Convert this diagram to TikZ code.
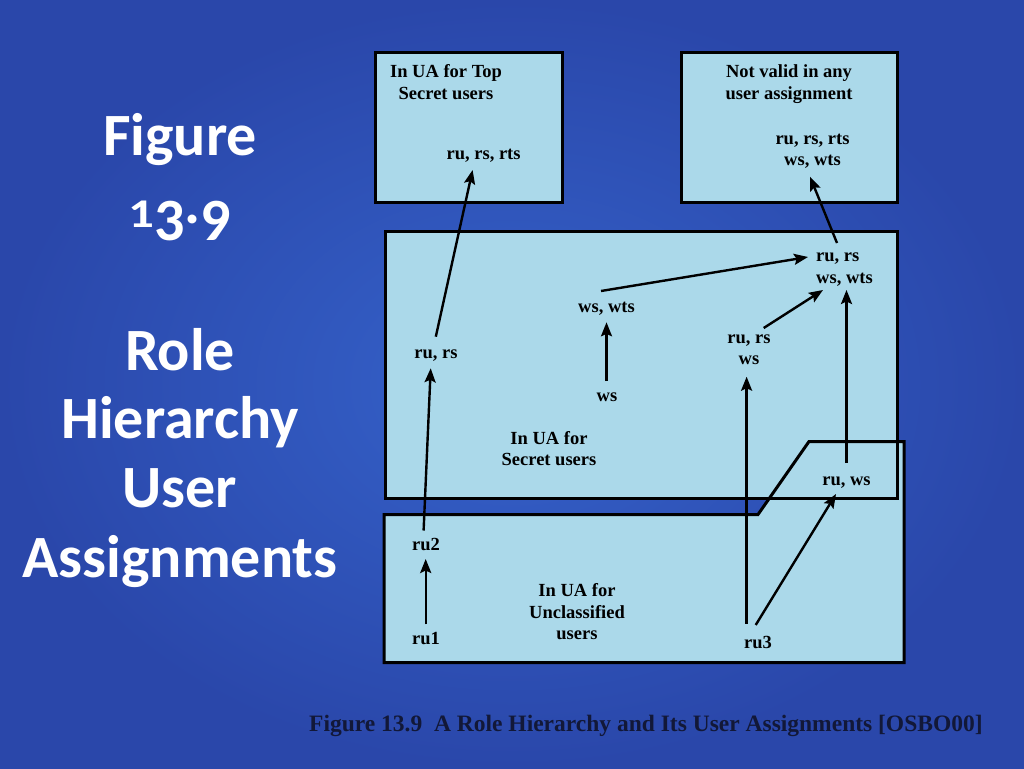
\documentclass[tikz,border=0pt]{standalone}
\usepackage{fontspec}
\setmainfont{Liberation Serif}
\newfontfamily\titlefont{Carlito}
\usetikzlibrary{arrows.meta,calc}
\definecolor{bgout}{HTML}{2A47AA}
\definecolor{bgin}{HTML}{3562CA}
\definecolor{boxfill}{HTML}{ABD9EA}
\definecolor{captxt}{HTML}{121838}
\tikzset{
 boxline/.style={draw=black,line width=3pt},
 boxbg/.style={fill=boxfill},
 lbl/.style={font=\fontsize{18.5}{21.6}\selectfont\bfseries,inner sep=0pt,anchor=base,align=center},
 arr/.style={line width=2.4pt,-{Stealth[length=14pt,width=11pt,inset=2.5pt]}},
 ttl/.style={font=\titlefont\fontsize{60}{69}\selectfont\bfseries,text=white,inner sep=0pt,anchor=base},
}
\begin{document}
\begin{tikzpicture}[x=1pt,y=-1pt]
\useasboundingbox (0,0) rectangle (1024,768);
\shade[inner color=bgin,outer color=bgout] (0,0) rectangle (1024,768);

% title
\node[ttl] (tFig) at (180,155) {Figure};
\node[ttl] (tNum) at (180,227) {\scalebox{0.85}[0.68]{1}\raisebox{-13pt}{3}\raisebox{4pt}{.}\raisebox{-13pt}{9}};
\node[ttl] (tRole) at (180,370) {Role};
\node[ttl] (tHier) at (180,438) {Hierarchy};
\node[ttl] (tUser) at (180,507) {User};
\node[ttl] (tAssign) at (180,577) {Assignments};

% boxes
\path[boxbg] (375.5,52.5) rectangle (562,202.5);
\path[boxbg] (681.5,52.5) rectangle (897,202.5);
\path[boxbg] (385,231.5) rectangle (897,498.5);
\path[boxbg] (384,514.5) -- (758,514.5) -- (809,441.5) -- (904,441.5) -- (904,662.5) -- (384,662.5) -- cycle;
\draw[boxline] (375.5,52.5) rectangle (562,202.5);
\draw[boxline] (681.5,52.5) rectangle (897,202.5);
\draw[boxline] (385,231.5) rectangle (897,498.5);
\draw[boxline] (384,514.5) -- (758,514.5) -- (809,441.5) -- (904,441.5) -- (904,662.5) -- (384,662.5) -- cycle;

% labels (base anchor = baseline of last line)
\node[lbl] (tst) at (446,99.3) {In UA for Top\\Secret users};
\node[lbl] (nvt) at (789,99.3) {Not valid in any\\user assignment};
\node[lbl] (tlr) at (483.6,159) {ru, rs, rts};
\node[lbl] (nvr) at (812.5,165.6) {ru, rs, rts\\ws, wts};
\node[lbl,align=left,anchor=base west] (top) at (816,283.3) {ru, rs\\ws, wts};
\node[lbl] (wsw) at (606.5,312.3) {ws, wts};
\node[lbl] (rurs) at (436,358.3) {ru, rs};
\node[lbl] (ws) at (607,401.7) {ws};
\node[lbl] (rm) at (749,364.9) {ru, rs\\ws};
\node[lbl] (stext) at (549,465.6) {In UA for\\Secret users};
\node[lbl] (ruws) at (846.5,485.3) {ru, ws};
\node[lbl] (ru2) at (426,550.6) {ru2};
\node[lbl] (ru1) at (426,644.4) {ru1};
\node[lbl] (utext) at (577,639.7) {In UA for\\Unclassified\\users};
\node[lbl] (ru3) at (758,648.7) {ru3};

% arrows
\draw[arr] ($(ru1.base)+(-0.3,-20)$) -- ($(ru2.base)+(-0.3,8.4)$);
\draw[arr] ($(ru2.base)+(-2.4,-20.1)$) -- ($(rurs.base)+(-5.3,10)$);
\draw[arr] ($(rurs.base)+(-0.2,-21.6)$) -- ($(tlr.base)+(-11,11)$);
\draw[arr] ($(ws.base)+(-0.5,-20.7)$) -- ($(wsw.base)+(0,10)$);
\draw[arr] ($(wsw.base)+(-5.5,-21.3)$) -- ($(top.base west)+(-8,-26.3)$);
\draw[arr] ($(rm.base)+(14.7,-36.9)$) -- ($(top.base west)+(7,6.7)$);
\draw[arr] ($(ruws.base)+(0,-22.3)$) -- ($(top.base west)+(30.5,6.7)$);
\draw[arr] ($(ru3.base)+(-11.4,-25.1)$) -- ($(rm.base)+(-2.4,11.8)$);
\draw[arr] ($(ru3.base)+(-2.3,-23.7)$) -- ($(ruws.base)+(-10.5,8.7)$);
\draw[arr] ($(top.base west)+(21,-40.3)$) -- ($(nvr.base)+(-2.5,11.1)$);

% caption
\node[font=\fontsize{23.5}{28}\selectfont\bfseries,text=captxt,inner sep=0pt,anchor=base west] (cap) at (309,731) {Figure 13.9\ \ A Role Hierarchy and Its User Assignments [OSBO00]};
\end{tikzpicture}
\end{document}
